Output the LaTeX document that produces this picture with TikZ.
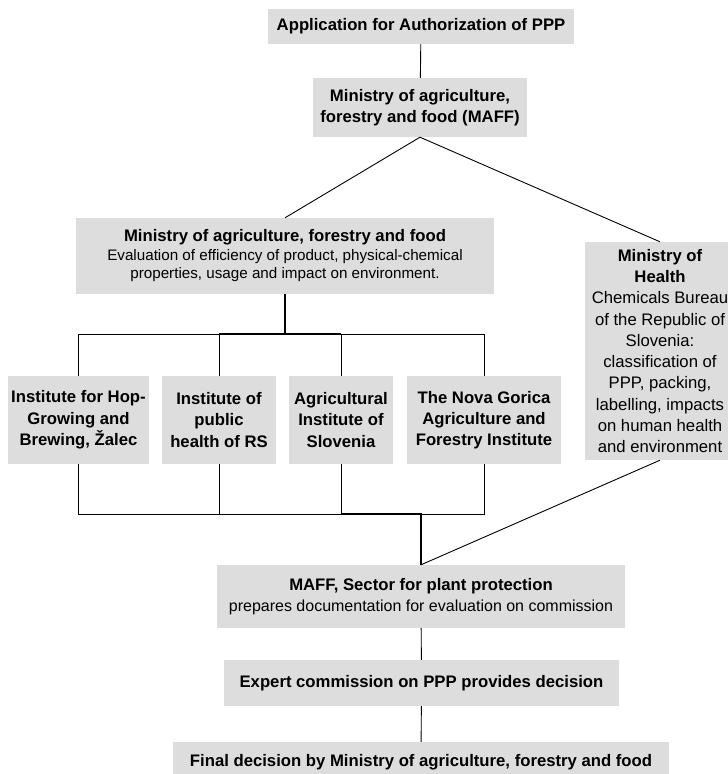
\documentclass[tikz,border=0pt]{standalone}
\usepackage{fontspec}
\setmainfont{Liberation Sans}
\usepackage{tikz}
\usetikzlibrary{positioning,calc}
\definecolor{boxgray}{RGB}{221,221,221}
\newcommand{\bigtxt}{\fontsize{16.7}{21.3}\selectfont}
\newcommand{\smalltxt}{\fontsize{15.2}{18.5}\selectfont}
\tikzset{box/.style={fill=boxgray,inner sep=0pt,align=center,font=\bigtxt},
  link/.style={line width=.9pt}}

\begin{document}
\begin{tikzpicture}[x=1pt,y=-1pt]
\useasboundingbox (0,0) rectangle (728,774);
\node[box,minimum width=306,minimum height=35,font=\bigtxt\bfseries] (app) at (421,26.5) {Application for Authorization of PPP};
\node[box,minimum width=214,minimum height=59,font=\bigtxt\bfseries] (maff) at (420,107.5) {Ministry of agriculture,\\forestry and food (MAFF)};
\node[box,minimum width=418,minimum height=76,font=\smalltxt] (eval) at (285,256) {{\fontsize{16.7}{18.5}\selectfont\bfseries Ministry of agriculture, forestry and food}\\Evaluation of efficiency of product, physical-chemical\\properties, usage and impact on environment.};
\node[box,minimum width=150,minimum height=218] (health) at (660,351) {\textbf{Ministry of}\\\textbf{Health}\\Chemicals Bureau\\of the Republic of\\Slovenia:\\classification of\\PPP, packing,\\labelling, impacts\\on human health\\and environment};
% the four institutes
\node[box,minimum width=141,minimum height=88,font=\bigtxt\bfseries] (hop) at (78.5,420) {Institute for Hop-\\Growing and\\Brewing, Žalec};
\node[box,minimum width=114,minimum height=88,font=\bigtxt\bfseries] (ivz) at (219,420) {Institute of\\public\\health of RS};
\node[box,minimum width=104,minimum height=88,font=\bigtxt\bfseries] (kis) at (341,420) {Agricultural\\Institute of\\Slovenia};
\node[box,minimum width=154,minimum height=88,font=\bigtxt\bfseries] (ngi) at (484,420) {The Nova Gorica\\Agriculture and\\Forestry Institute};
\node[box,minimum width=408,minimum height=63] (sector) at (421,596.5) {\textbf{MAFF, Sector for plant protection}\\{\fontsize{16}{21}\selectfont prepares documentation for evaluation on commission}};
\node[box,minimum width=395,minimum height=46,font=\bigtxt\bfseries] (expert) at (421.5,683) {Expert commission on PPP provides decision};
\node[box,minimum width=496,minimum height=40,font=\bigtxt\bfseries] (final) at (421,762) {Final decision by Ministry of agriculture, forestry and food};
\coordinate (upbar) at (0,334);
\coordinate (lowbar) at (0,514);
\draw[link] (app) -- (maff);
\draw[link] (maff.south) -- (eval.north);
\draw[link] (maff.south) -- (health.north);
\foreach \inst in {hop,ivz,kis,ngi} {
  \draw[link] (eval.south) -- (eval.south |- upbar) -| (\inst.north);
  \draw[link] (\inst.south) -- (\inst.south |- lowbar) -| (sector.north);
}
\draw[link,line width=1.8pt] (eval.south) -- (eval.south |- upbar);
\draw[link,line width=1.8pt] (ivz.north |- upbar) -- (kis.north |- upbar);
\draw[link,line width=1.8pt] (kis.south |- lowbar) -| (sector.north);
\draw[link] (health.south) -- (sector.north);
\draw[link] (sector) -- (expert);
\draw[link] (expert) -- (final);
\end{tikzpicture}
\end{document}
